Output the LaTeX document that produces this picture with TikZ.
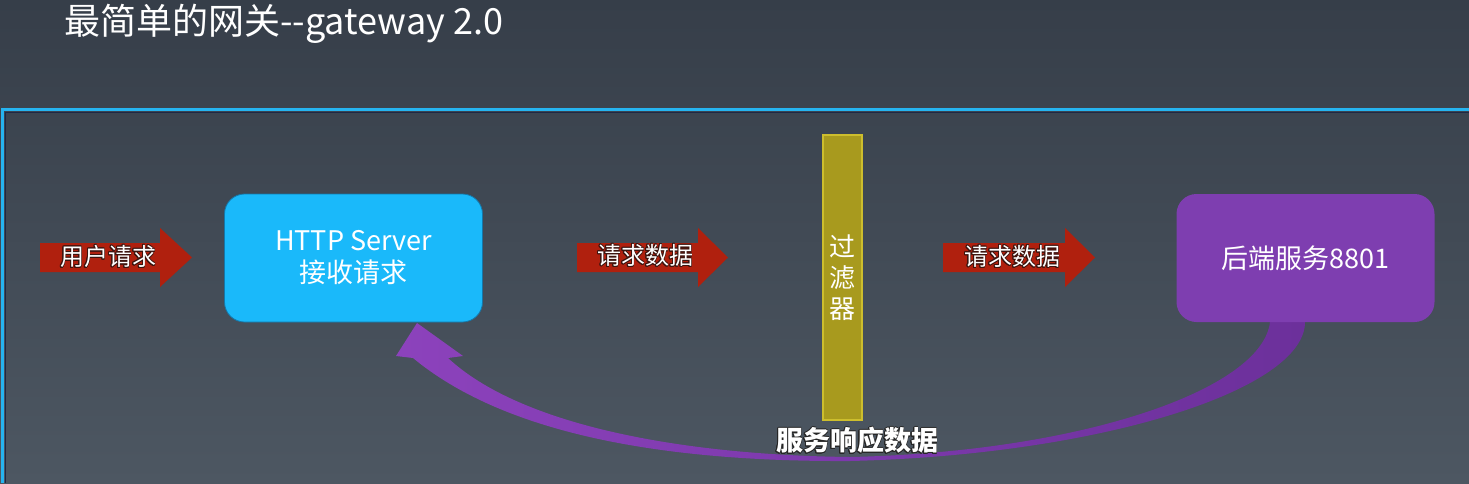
\documentclass[tikz,border=0pt]{standalone}
\usepackage{fontspec}
\setmainfont{Noto Sans CJK SC}
\usepackage{contour}
\contourlength{0.9pt}
\definecolor{bgtop}{RGB}{54,62,73}
\definecolor{bgbot}{RGB}{77,87,98}
\definecolor{panelblue}{RGB}{38,180,240}
\definecolor{paneldark}{RGB}{30,40,70}
\definecolor{arrred}{RGB}{176,32,14}
\definecolor{httpblue}{RGB}{26,185,250}
\definecolor{httpedge}{RGB}{20,120,170}
\definecolor{backpurple}{RGB}{126,62,176}
\definecolor{filterfill}{RGB}{168,154,30}
\definecolor{filteredge}{RGB}{205,190,45}
\definecolor{purpleL}{RGB}{140,66,188}
\definecolor{purpleR}{RGB}{108,48,155}
\definecolor{shadowc}{RGB}{60,20,15}
\tikzset{
  redarrow/.style={fill=arrred},
  arrowlabel/.style={text=white,inner sep=0pt,font=\fontsize{24pt}{28pt}\selectfont},
  mainbox/.style={rounded corners=20pt,inner sep=0pt,text=white,align=center,
     minimum width=258pt,minimum height=128pt,font=\fontsize{27pt}{32pt}\selectfont},
  filterbar/.style={fill=filterfill,draw=filteredge,line width=1.2pt,inner sep=0pt,text=white,
     align=center,minimum width=39pt,minimum height=285pt,font=\fontsize{26pt}{31pt}\selectfont},
  titletext/.style={text=white,inner sep=0pt,anchor=west,font=\fontsize{36pt}{40pt}\selectfont},
  resptext/.style={text=white,inner sep=0pt,font=\bfseries\fontsize{27pt}{30pt}\selectfont},
}
\begin{document}
\begin{tikzpicture}[x=1pt,y=-1pt]
\useasboundingbox (0,0) rectangle (1469,483);
\shade[top color=bgtop,bottom color=bgbot] (0,0) rectangle (1469,483);
% panel frame
\draw[paneldark,line width=1pt] (1469,112.5) -- (5.5,112.5) -- (5.5,483);
\draw[panelblue,line width=3pt] (1469,109.5) -- (2.5,109.5) -- (2.5,483);
% title
\node[titletext] (title) at (64,24) {最简单的网关{-}{-}gateway 2.0};
% response curved arrow
\coordinate (headtip) at (417,323);
\shade[left color=purpleL,right color=purpleR]
  (413,358) -- (396,356) -- (headtip) -- (463,356) -- (448,358)
  .. controls (520,425) and (680,455) .. (850,457)
  .. controls (1080,452) and (1262,390) .. (1270,322)
  -- (1305,322)
  .. controls (1305,390) and (1100,455) .. (850,461)
  .. controls (650,462) and (500,430) .. (413,358) -- cycle;
% boxes
\node[mainbox,fill=httpblue,draw=httpedge,line width=0.8pt] (http) at (353.5,258) {HTTP Server\\接收请求};
\node[mainbox,fill=backpurple] (backend) at (1305.5,258) {后端服务8801};
\node[filterbar] (filter) at (842.5,277.5) {过\\滤\\器};
% red arrows
\fill[redarrow] (40,243) -- (160,243) -- (160,228) -- (192,257.5) -- (160,287) -- (160,272) -- (40,272) -- cycle;
\fill[redarrow] (577,243) -- (698,243) -- (698,228) -- (728,257.5) -- (698,287) -- (698,272) -- (577,272) -- cycle;
\fill[redarrow] (943,243) -- (1065,243) -- (1065,228) -- (1095,257.5) -- (1065,287) -- (1065,272) -- (943,272) -- cycle;
\node[arrowlabel] (lab1) at (108,257) {\contour{shadowc}{用户请求}};
\node[arrowlabel] (lab2) at (645,256) {\contour{shadowc}{请求数据}};
\node[arrowlabel] (lab3) at (1012,257) {\contour{shadowc}{请求数据}};
% response label
\node[resptext] (resp) at (857,441) {\contour{black!85}{服务响应数据}};
\end{tikzpicture}
\end{document}
